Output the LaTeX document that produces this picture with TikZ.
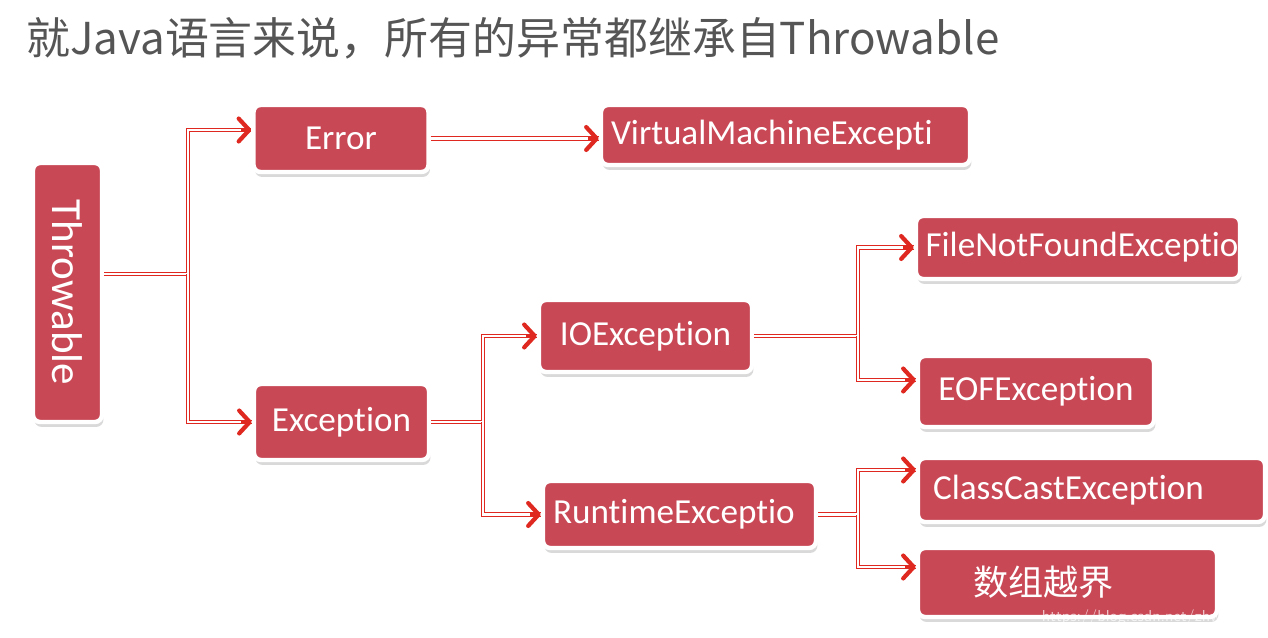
\documentclass[tikz,border=0pt]{standalone}
\usepackage{fontspec}
\newfontfamily\carlito[Ligatures={NoCommon}]{Carlito}
\newfontfamily\cjk{Noto Sans CJK SC}
\usetikzlibrary{arrows.meta,shadows}
\definecolor{boxred}{RGB}{201,72,86}
\definecolor{linkred}{RGB}{222,40,32}
\definecolor{titlegray}{RGB}{85,85,85}
\tikzset{
  cls/.style={fill=boxred, draw=white, line width=2.5pt, rounded corners=4pt,
    drop shadow={shadow xshift=0.8pt, shadow yshift=-2.8pt, opacity=0.3},
    text=white, font=\carlito\fontsize{20}{24}\selectfont, inner xsep=0.2cm},
  leftcls/.style={cls, align=left, text width=#1},
  link/.style={draw=linkred, line width=0.6pt, double=white, double distance=1.4pt},
  tip/.style={draw=linkred, line width=2.4pt,
    -{Straight Barb[length=6pt,width=13pt,line width=2.4pt,round]}},
}

\begin{document}
\begin{tikzpicture}[x=0.02cm,y=-0.02cm]
  \useasboundingbox (0,0) rectangle (1268,638);
  \node[anchor=west, text=titlegray, font=\cjk\fontsize{25}{30}\selectfont] (title)
    at (20,38) {就Java语言来说，所有的异常都继承自Throwable};
  % classes
  \node[cls, minimum width=1.38cm, minimum height=5.18cm, font=\carlito\fontsize{24.5}{28}\selectfont] (thr) at (67.5,292.5) {\rotatebox{-90}{Throwable}};
  \node[cls, minimum width=3.5cm, minimum height=1.34cm] (err) at (341,138.5) {Error};
  \node[leftcls=6.98cm, minimum height=1.2cm] (vm) at (785.5,135) {VirtualMachineExcepti};
  \node[cls, minimum width=3.5cm, minimum height=1.52cm] (exc) at (341.5,422) {Exception};
  \node[cls, minimum width=4.26cm, minimum height=1.44cm] (io) at (645.5,336) {IOException};
  \node[leftcls=5.06cm, minimum height=1.34cm] (rt) at (679.5,514.5) {RuntimeExceptio};
  \node[leftcls=6.1cm, minimum height=1.26cm, inner xsep=0.19cm] (fnf) at (1078,247.5) {FileNotFoundExceptio};
  \node[cls, minimum width=4.72cm, minimum height=1.42cm] (eof) at (1036,391.5) {EOFException};
  \node[leftcls=6.34cm, minimum height=1.28cm, inner xsep=0.3cm] (cc) at (1091.5,490) {ClassCastException};
  \node[leftcls=5.58cm, minimum height=1.38cm, font=\cjk\fontsize{20}{24}\selectfont] (arr) at (1067.5,582.5) {\hspace*{0.9cm}数组越界};
  % links
  \coordinate (j1) at (188,274);
  \coordinate (j2) at (483,421);
  \coordinate (j3) at (858,333);
  \coordinate (j4) at (858,519);
  \coordinate (terr) at ([yshift=0.17cm]err.west);
  \coordinate (tvm) at (err.east -| vm.west);
  \coordinate (teof) at ([yshift=0.23cm]eof.west);
  \coordinate (tcc) at ([yshift=0.4cm]cc.west);
  \coordinate (tarr) at ([yshift=0.31cm]arr.west);
  \draw[link] (j1 -| thr.east) -- (j1) |- (terr);
  \draw[link] (j1) |- (exc.west);
  \draw[link] (err.east) -- (tvm);
  \draw[link] (exc.east) -- (exc.east -| j2) |- (io.west);
  \draw[link] (exc.east -| j2) |- (rt.west);
  \draw[link] (io.east) -- (io.east -| j3) |- (fnf.west);
  \draw[link] (io.east -| j3) |- (teof);
  \draw[link] (rt.east) -- (rt.east -| j4) |- (tcc);
  \draw[link] (rt.east -| j4) |- (tarr);
  \foreach \t in {terr,exc.west,tvm,io.west,rt.west,fnf.west,teof,tcc,tarr}
    \draw[tip] ([xshift=-6pt]\t) -- (\t);
  \node[anchor=east, text=white, opacity=0.7, font=\fontsize{9}{10}\selectfont\sffamily] (mark) at (1266,618) {https://blog.csdn.net/zhwadezh};
\end{tikzpicture}
\end{document}
